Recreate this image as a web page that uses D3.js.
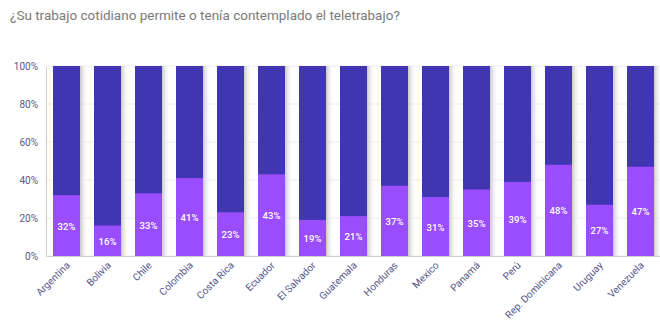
<!DOCTYPE html>
<html><head><meta charset="utf-8">
<script src="https://cdn.jsdelivr.net/npm/d3@7"></script>
<style>body{margin:0;background:#fff;font-family:Roboto,sans-serif;}</style>
</head><body>
<svg id="c" width="660" height="328"></svg>
<script>
const categories = ["Argentina","Bolivia","Chile","Colombia","Costa Rica","Ecuador","El Salvador","Guatemala","Honduras","Mexico","Panamá","Perú","Rep. Dominicana","Uruguay","Venezuela"];
const yesValues = [32,16,33,41,23,43,19,21,37,31,35,39,48,27,47];
const yTicks = [0,20,40,60,80,100];
const title = "¿Su trabajo cotidiano permite o tenía contemplado el teletrabajo?";

(function(){
const svg = d3.select("#c");
const pL = 46, pR = 661, pT = 66, pB = 256;
const x = d3.scaleBand().domain(categories).range([pL, pR]).paddingInner(14/41).paddingOuter(7/41);
const y = d3.scaleLinear().domain([0,100]).range([pB, pT]);

const defs = svg.append("defs");
const g = defs.append("linearGradient").attr("id","sh");
g.append("stop").attr("offset","0").attr("stop-color","#c8c8c8");
g.append("stop").attr("offset","1").attr("stop-color","#ffffff").attr("stop-opacity",0);

svg.append("text").attr("x",10).attr("y",20).attr("font-size",13.5).attr("fill","#7a7a7a").text(title);

svg.append("g").selectAll("line").data(yTicks).join("line")
  .attr("x1",pL).attr("x2",pR).attr("y1",d=>y(d)).attr("y2",d=>y(d))
  .attr("stroke","#ececec").attr("stroke-width",1);

const yAxis = svg.append("g").attr("transform",`translate(${pL},0)`)
  .call(d3.axisLeft(y).tickValues(yTicks).tickFormat(d=>d+"%").tickSize(0).tickPadding(8));
yAxis.select(".domain").attr("stroke","#d0d0d0");
yAxis.selectAll("text").attr("font-size",10).attr("fill","#5a5a7e").attr("font-family","Roboto");

svg.append("g").selectAll("rect").data(categories).join("rect")
  .attr("x",d=>x(d)+x.bandwidth()).attr("y",pT).attr("width",8).attr("height",pB-pT)
  .attr("fill","url(#sh)");

svg.append("g").selectAll("rect").data(categories).join("rect")
  .attr("x",d=>x(d)).attr("y",pT).attr("width",x.bandwidth()).attr("height",pB-pT)
  .attr("fill","#4036b2");
svg.append("g").selectAll("rect").data(yesValues).join("rect")
  .attr("x",(d,i)=>x(categories[i])).attr("y",d=>y(d)).attr("width",x.bandwidth()).attr("height",d=>pB-y(d))
  .attr("fill","#9a4dfd");
svg.append("g").selectAll("text").data(yesValues).join("text")
  .attr("x",(d,i)=>x(categories[i])+x.bandwidth()/2).attr("y",d=>(y(d)+pB)/2+4)
  .attr("text-anchor","middle").attr("font-size",9.5).attr("font-weight",500).attr("fill","#fff")
  .text(d=>d+"%");

svg.append("line").attr("x1",pL).attr("x2",pR).attr("y1",pB+0.5).attr("y2",pB+0.5).attr("stroke","#d0d0d0");

const xAxis = svg.append("g").attr("transform",`translate(0,${pB})`)
  .call(d3.axisBottom(x).tickSize(0).tickPadding(0));
xAxis.select(".domain").remove();
xAxis.selectAll("text").attr("font-size",10).attr("fill","#55558a").attr("font-family","Roboto")
  .attr("text-anchor","end").attr("dy",0)
  .attr("transform","translate(4,10) rotate(-45)");
})();
</script>
</body></html>
